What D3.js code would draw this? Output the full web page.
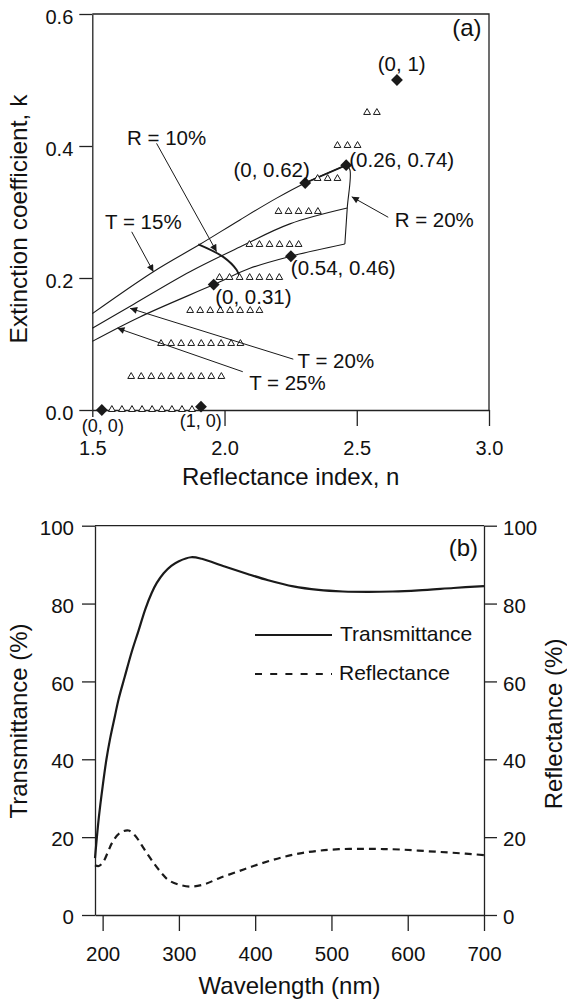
<!doctype html>
<html>
<head>
<meta charset="utf-8">
<title>Optical constants</title>
<style>
  body { margin: 0; background: #fff; }
  svg text { font-family: "Liberation Sans", Arial, sans-serif; fill: #111; }
</style>
</head>
<body>
<svg width="567" height="1002"></svg>
<script src="https://d3js.org/d3.v7.min.js"></script>
<script>
// ---------- panel (a) data : n (reflectance index), k (extinction coefficient) ----------
const ticksAx = [1.5, 2.0, 2.5, 3.0];
const ticksAy = [0.0, 0.2, 0.4, 0.6];

// rows of open triangles
const triRowK = [0, 0.05, 0.10, 0.15, 0.20, 0.25, 0.30, 0.35, 0.40, 0.45];
const triRowN = [
  [1.574, 1.612, 1.650, 1.688, 1.726, 1.763, 1.801, 1.839, 1.877],
  [1.647, 1.685, 1.723, 1.761, 1.798, 1.836, 1.874, 1.912, 1.950, 1.988],
  [1.760, 1.798, 1.836, 1.874, 1.912, 1.949, 1.987, 2.025, 2.060],
  [1.870, 1.908, 1.946, 1.984, 2.021, 2.059, 2.097, 2.132],
  [1.981, 2.019, 2.057, 2.095, 2.132, 2.170, 2.207],
  [2.094, 2.132, 2.170, 2.208, 2.246, 2.280],
  [2.204, 2.242, 2.280, 2.318, 2.353],
  [2.352, 2.390, 2.427],
  [2.427, 2.465, 2.503],
  [2.539, 2.576]
];

// filled diamonds and their labels
const diamondN = [1.536, 1.911, 1.959, 2.251, 2.305, 2.460, 2.652];
const diamondK = [0.000, 0.005, 0.190, 0.233, 0.344, 0.371, 0.500];
const diamondText = ["(0, 0)", "(1, 0)", "(0, 0.31)", "(0.54, 0.46)", "(0, 0.62)", "(0.26, 0.74)", "(0, 1)"];
const diamondTextN = [1.540, 1.910, 2.109, 2.449, 2.178, 2.670, 2.670];
const diamondTextK = [-0.024, -0.016, 0.172, 0.215, 0.364, 0.379, 0.525];

// iso curves
const t15N = [1.500, 1.731, 1.907, 2.058, 2.197, 2.305, 2.460];
const t15K = [0.146, 0.2095, 0.251, 0.288, 0.321, 0.344, 0.371];
const t20N = [1.500, 1.655, 1.869, 2.058, 2.247, 2.464];
const t20K = [0.124, 0.160, 0.2095, 0.247, 0.282, 0.306];
const t25N = [1.500, 1.680, 1.959, 2.096, 2.251, 2.455];
const t25K = [0.104, 0.141, 0.190, 0.2147, 0.233, 0.2515];
const r10N = [1.901, 1.995, 2.046, 2.058];
const r10K = [0.251, 0.232, 0.212, 0.200];
const r20N = [2.460, 2.474, 2.464, 2.455];
const r20K = [0.371, 0.364, 0.306, 0.2515];

// annotations with arrows
const annoText = ["R = 10%", "T = 15%", "R = 20%", "T = 20%", "T = 25%"];
const annoN = [1.781, 1.693, 2.793, 2.421, 2.238];
const annoK = [0.412, 0.285, 0.289, 0.075, 0.041];
const arrowFromN = [1.743, 1.649, 2.619, 2.260, 2.069];
const arrowFromK = [0.404, 0.270, 0.292, 0.077, 0.058];
const arrowToN = [1.970, 1.731, 2.481, 1.643, 1.595];
const arrowToK = [0.240, 0.2095, 0.323, 0.154, 0.124];

// ---------- panel (b) data ----------
const ticksBx = [200, 300, 400, 500, 600, 700];
const ticksBy = [0, 20, 40, 60, 80, 100];

const transWl = [190, 195, 200, 205, 210, 216, 221, 229, 238, 247, 256, 264, 271, 280, 290, 300, 316, 330, 360, 390, 417, 450, 483, 515, 548, 580, 614, 660, 700];
const transVal = [14.6, 25, 33, 40, 45.5, 51, 55.5, 61.2, 67.5, 73, 78.6, 82.6, 85.3, 87.8, 89.7, 90.9, 91.9, 91.5, 89.5, 87.6, 86, 84.4, 83.5, 83.1, 83, 83.1, 83.4, 84, 84.5];
const reflWl = [190, 195, 201, 207, 212, 222, 234, 243, 251, 260, 269, 278, 286, 300, 317, 335, 352, 375, 395, 417, 439, 461, 483, 510, 540, 565, 592, 625, 658, 700];
const reflVal = [12.8, 12.6, 13.7, 16.2, 18.4, 21, 21.7, 20.3, 18, 15.3, 12.8, 10.6, 9, 7.8, 7.3, 8, 9.4, 11, 12.4, 13.8, 15, 15.9, 16.5, 16.9, 17, 16.95, 16.8, 16.4, 16, 15.4];

const svg = d3.select("svg");
const ink = "#1a1a1a";

svg.append("defs").append("marker")
  .attr("id", "arrow")
  .attr("viewBox", "0 0 10 10")
  .attr("refX", 10).attr("refY", 5)
  .attr("markerUnits", "userSpaceOnUse")
  .attr("markerWidth", 9).attr("markerHeight", 7)
  .attr("orient", "auto")
  .append("path").attr("d", "M0,0L10,5L0,10z").attr("fill", ink);

function styleAxis(g, size) {
  g.selectAll("path, line").attr("stroke", "#222").attr("stroke-width", 1.3);
  g.selectAll("text").attr("font-size", size).attr("fill", ink)
    .attr("font-family", "'Liberation Sans', Arial, sans-serif");
  g.attr("font-size", null).attr("font-family", null);
}

// ================= panel (a) =================
const xA = d3.scaleLinear().domain([1.5, 3.0]).range([92.3, 489]);
const yA = d3.scaleLinear().domain([0, 0.6]).range([410, 14]);

const gA = svg.append("g");

// frame top/right
gA.append("path")
  .attr("d", d3.line()([[xA(1.5), yA(0.6)], [xA(3.0), yA(0.6)], [xA(3.0), yA(0)]]))
  .attr("fill", "none").attr("stroke", "#222").attr("stroke-width", 1.3);

const axAy = gA.append("g").attr("transform", "translate(" + xA(1.5) + ",0)")
  .call(d3.axisLeft(yA).tickValues(ticksAy).tickSize(13).tickSizeOuter(0).tickPadding(6).tickFormat(d3.format(".1f")));
axAy.selectAll(".tick text").attr("dy", "0.45em");
styleAxis(axAy, 20);

const axAx = gA.append("g").attr("transform", "translate(0," + yA(0) + ")")
  .call(d3.axisBottom(xA).tickValues(ticksAx).tickSize(16).tickSizeOuter(0).tickPadding(15).tickFormat(d3.format(".1f")));
axAx.selectAll(".tick line").filter(d => d === 1.5).attr("y2", 7);
styleAxis(axAx, 20);

gA.append("text").attr("x", (xA(1.5) + xA(3.0)) / 2).attr("y", 485)
  .attr("text-anchor", "middle").attr("font-size", 24).text("Reflectance index, n");
gA.append("text").attr("transform", "translate(26.5," + 219 + ") rotate(-90)")
  .attr("text-anchor", "middle").attr("font-size", 24.5).text("Extinction coefficient, k");
gA.append("text").attr("x", 481.5).attr("y", 35.5).attr("text-anchor", "end")
  .attr("font-size", 24).text("(a)");

// curves
const lineA = d3.line().x(d => xA(d[0])).y(d => yA(d[1])).curve(d3.curveCatmullRom.alpha(0.5));
const curves = [
  {n: t15N, k: t15K, w: 1.1},
  {n: t20N, k: t20K, w: 1.1},
  {n: t25N, k: t25K, w: 1.1},
  {n: r10N, k: r10K, w: 1.9},
  {n: r20N, k: r20K, w: 1.1}
];
gA.append("g").selectAll("path").data(curves).enter().append("path")
  .attr("d", c => lineA(c.n.map((v, i) => [v, c.k[i]])))
  .attr("fill", "none").attr("stroke", ink).attr("stroke-width", c => c.w);

// thicker upper segment between (0, 0.62) and (0.26, 0.74)
gA.append("path")
  .attr("d", lineA([[diamondN[4], diamondK[4]], [diamondN[5], diamondK[5]]]))
  .attr("fill", "none").attr("stroke", ink).attr("stroke-width", 1.8);

// triangles
const triPts = [];
triRowN.forEach((row, r) => row.forEach(n => triPts.push([n, triRowK[r]])));
gA.append("g").selectAll("path").data(triPts).enter().append("path")
  .attr("d", d3.symbol().type(d3.symbolTriangle).size(20))
  .attr("transform", d => "translate(" + xA(d[0]) + "," + (yA(d[1]) - 0.5) + ")")
  .attr("fill", "#fff").attr("stroke", ink).attr("stroke-width", 1);

// diamonds
gA.append("g").selectAll("path").data(diamondN).enter().append("path")
  .attr("d", d3.symbol().type(d3.symbolSquare).size(70))
  .attr("transform", (d, i) => "translate(" + xA(d) + "," + yA(diamondK[i]) + ") rotate(45)")
  .attr("fill", ink);

gA.append("g").selectAll("text").data(diamondText).enter().append("text")
  .attr("x", (d, i) => xA(diamondTextN[i]))
  .attr("y", (d, i) => yA(diamondTextK[i]))
  .attr("dy", "0.35em")
  .attr("text-anchor", "middle")
  .attr("font-size", (d, i) => i < 2 ? 18 : 20.5)
  .text(d => d);

// annotations
gA.append("g").selectAll("line").data(annoText).enter().append("line")
  .attr("x1", (d, i) => xA(arrowFromN[i])).attr("y1", (d, i) => yA(arrowFromK[i]))
  .attr("x2", (d, i) => xA(arrowToN[i])).attr("y2", (d, i) => yA(arrowToK[i]))
  .attr("stroke", ink).attr("stroke-width", 1)
  .attr("marker-end", "url(#arrow)");

gA.append("g").selectAll("text").data(annoText).enter().append("text")
  .attr("x", (d, i) => xA(annoN[i]))
  .attr("y", (d, i) => yA(annoK[i]))
  .attr("dy", "0.36em")
  .attr("text-anchor", "middle")
  .attr("font-size", 20.5)
  .text(d => d);

// ================= panel (b) =================
const xB = d3.scaleLinear().domain([190, 700]).range([95, 484]);
const yB = d3.scaleLinear().domain([0, 100]).range([915, 525.7]);
const yBR = d3.scaleLinear().domain([0, 100]).range([915, 525.7]);

const gB = svg.append("g");

gB.append("line")
  .attr("x1", xB(190)).attr("x2", xB(700)).attr("y1", yB(100)).attr("y2", yB(100))
  .attr("stroke", "#222").attr("stroke-width", 1.3);

const axBl = gB.append("g").attr("transform", "translate(" + xB(190) + ",0)")
  .call(d3.axisLeft(yB).tickValues(ticksBy).tickSize(13).tickSizeOuter(0).tickPadding(8));
axBl.selectAll(".tick text").attr("dy", "0.42em");
styleAxis(axBl, 20.5);

const axBr = gB.append("g").attr("transform", "translate(" + xB(700) + ",0)")
  .call(d3.axisRight(yBR).tickValues(ticksBy).tickSize(13).tickSizeOuter(0).tickPadding(6));
axBr.selectAll(".tick text").attr("dy", "0.42em");
styleAxis(axBr, 20.5);

const axBx = gB.append("g").attr("transform", "translate(0," + yB(0) + ")")
  .call(d3.axisBottom(xB).tickValues(ticksBx).tickSize(16).tickSizeOuter(0).tickPadding(15));
styleAxis(axBx, 20.5);

gB.append("text").attr("x", (xB(190) + xB(700)) / 2).attr("y", 994)
  .attr("text-anchor", "middle").attr("font-size", 24).text("Wavelength (nm)");
gB.append("text").attr("transform", "translate(26.5," + 721 + ") rotate(-90)")
  .attr("text-anchor", "middle").attr("font-size", 24).text("Transmittance (%)");
gB.append("text").attr("transform", "translate(561.5," + 724 + ") rotate(-90)")
  .attr("text-anchor", "middle").attr("font-size", 24).text("Reflectance (%)");
gB.append("text").attr("x", 478).attr("y", 556).attr("text-anchor", "end")
  .attr("font-size", 24).text("(b)");

const lineT = d3.line().x((d, i) => xB(transWl[i])).y(d => yB(d)).curve(d3.curveCatmullRom.alpha(0.5));
const lineR = d3.line().x((d, i) => xB(reflWl[i])).y(d => yBR(d)).curve(d3.curveCatmullRom.alpha(0.5));

gB.append("path").attr("d", lineT(transVal))
  .attr("fill", "none").attr("stroke", ink).attr("stroke-width", 2.2);
gB.append("path").attr("d", lineR(reflVal))
  .attr("fill", "none").attr("stroke", ink).attr("stroke-width", 2.2)
  .attr("stroke-dasharray", "7,5");

// legend
const legend = gB.append("g");
legend.append("line").attr("x1", 255).attr("x2", 332).attr("y1", 635).attr("y2", 635)
  .attr("stroke", ink).attr("stroke-width", 2.2);
legend.append("text").attr("x", 340).attr("y", 641).attr("font-size", 21).text("Transmittance");
legend.append("line").attr("x1", 255).attr("x2", 332).attr("y1", 674).attr("y2", 674)
  .attr("stroke", ink).attr("stroke-width", 2.2).attr("stroke-dasharray", "7,8.2");
legend.append("text").attr("x", 339).attr("y", 680).attr("font-size", 21).text("Reflectance");
</script>
</body>
</html>
